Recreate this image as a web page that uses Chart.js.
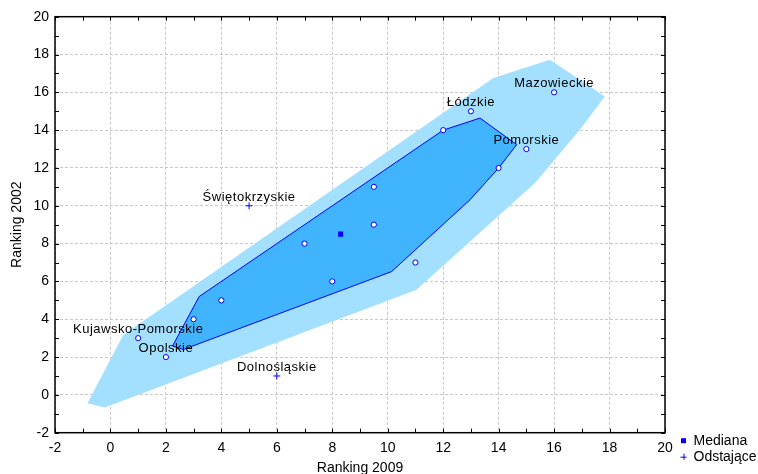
<!DOCTYPE html>
<html>
<head>
<meta charset="utf-8">
<script src="https://cdn.jsdelivr.net/npm/chart.js@4/dist/chart.umd.min.js"></script>
<style>
  html, body { margin: 0; padding: 0; background: #fff; }
  #wrap { width: 758px; height: 474px; position: relative; }
</style>
</head>
<body>
<div id="wrap"><canvas id="c" width="758" height="474"></canvas></div>
<script>
// ---- data ----
const axisMin = -2;
const axisMax = 20;
const axisStep = 2;

// regular points (Ranking 2009, Ranking 2002)
const pointX = [16, 13, 15, 12, 14, 9.5, 9.5, 7, 8, 11, 4, 3, 1, 2];
const pointY = [16, 15, 13, 14, 12, 11, 9, 8, 6, 7, 5, 4, 3, 2];
const pointLabel = ["Mazowieckie", "Łódzkie", "Pomorskie", "", "", "", "", "", "", "", "", "", "Kujawsko-Pomorskie", "Opolskie"];

// outliers
const outlierX = [5, 6];
const outlierY = [10, 1];
const outlierLabel = ["Świętokrzyskie", "Dolnośląskie"];

// median
const medianX = [8.3];
const medianY = [8.5];

// bag (inner hull) polygon vertices
const bagX = [2.24, 2.63, 10.14, 12.97, 14, 14.65, 13.33, 12, 3.2, 2.24];
const bagY = [2.59, 2.4, 6.52, 10.32, 12, 13.23, 14.64, 14, 5.2, 2.59];

// fence (outer loop) polygon vertices
const fenceX = [-0.83, -0.2, 11.04, 15.31, 16.93, 17.83, 15.85, 13.81, 0.46, -0.83];
const fenceY = [-0.44, -0.67, 5.56, 11.2, 14.02, 15.78, 17.72, 16.76, 3.17, -0.44];

const legendLabels = ["Mediana", "Odstające"];
const xTitle = "Ranking 2009";
const yTitle = "Ranking 2002";

// ---- helpers ----
const zip = (xs, ys) => xs.map((x, i) => ({x: x, y: ys[i]}));
const FONT = "'Liberation Sans', Arial, sans-serif";
const BLUE = '#0000ff';

Chart.defaults.font.family = FONT;
Chart.defaults.font.size = 14;
Chart.defaults.color = '#000';

const decorPlugin = {
  id: 'decor',
  afterDraw(chart) {
    const ctx = chart.ctx;
    const a = chart.chartArea;
    const xs = chart.scales.x, ys = chart.scales.y;
    ctx.save();
    // inside tick marks at every unit on all four sides
    ctx.strokeStyle = '#000';
    ctx.lineWidth = 1;
    const tl = 4;
    ctx.beginPath();
    for (let v = axisMin; v <= axisMax; v++) {
      const px = Math.round(xs.getPixelForValue(v)) + 0.5;
      ctx.moveTo(px, a.bottom); ctx.lineTo(px, a.bottom - tl);
      ctx.moveTo(px, a.top); ctx.lineTo(px, a.top + tl);
      const py = Math.round(ys.getPixelForValue(v)) + 0.5;
      ctx.moveTo(a.left, py); ctx.lineTo(a.left + tl, py);
      ctx.moveTo(a.right, py); ctx.lineTo(a.right - tl, py);
    }
    ctx.stroke();
    // frame
    ctx.lineWidth = 1.5;
    ctx.strokeRect(a.left, a.top, a.right - a.left, a.bottom - a.top);

    // point labels
    ctx.fillStyle = '#000';
    ctx.font = '13px ' + FONT;
    ctx.textAlign = 'center';
    ctx.textBaseline = 'middle';
    if ('letterSpacing' in ctx) ctx.letterSpacing = '0.5px';
    const lab = (x, y, t) => {
      if (!t) return;
      ctx.fillText(t, xs.getPixelForValue(x), ys.getPixelForValue(y) - 8.5);
    };
    pointX.forEach((x, i) => lab(x, pointY[i], pointLabel[i]));
    outlierX.forEach((x, i) => lab(x, outlierY[i], outlierLabel[i]));
    if ('letterSpacing' in ctx) ctx.letterSpacing = '0px';

    // legend (outside plot, lower right)
    const lx = a.right + 18.5;
    const ly1 = a.bottom + 8;
    const ly2 = a.bottom + 24;
    ctx.fillStyle = BLUE;
    ctx.fillRect(lx - 2.5, ly1 - 2.5, 5, 5);
    ctx.strokeStyle = BLUE;
    ctx.lineWidth = 1;
    ctx.beginPath();
    ctx.moveTo(lx - 3, ly2 + 0.5); ctx.lineTo(lx + 3, ly2 + 0.5);
    ctx.moveTo(lx + 0.5, ly2 - 3); ctx.lineTo(lx + 0.5, ly2 + 3);
    ctx.stroke();
    ctx.fillStyle = '#000';
    ctx.font = '14px ' + FONT;
    ctx.textAlign = 'left';
    ctx.textBaseline = 'middle';
    ctx.fillText(legendLabels[0], lx + 10, ly1);
    ctx.fillText(legendLabels[1], lx + 10, ly2);
    ctx.restore();
  }
};

const gridCfg = { color: '#c8c8c8', lineWidth: 1, drawTicks: false };
const borderCfg = { display: false, dash: [3, 2] };

new Chart(document.getElementById('c'), {
  type: 'scatter',
  data: {
    datasets: [
      {
        type: 'line', label: 'fence', order: 4,
        data: zip(fenceX, fenceY),
        backgroundColor: '#a3dffe', borderWidth: 0, borderColor: 'rgba(0,0,0,0)',
        fill: 'shape', pointRadius: 0, tension: 0
      },
      {
        type: 'line', label: 'bag', order: 3,
        data: zip(bagX, bagY),
        backgroundColor: '#40b4fe', borderColor: BLUE, borderWidth: 1,
        fill: 'shape', pointRadius: 0, tension: 0
      },
      {
        label: 'points', order: 2,
        data: zip(pointX, pointY),
        pointStyle: 'circle', pointRadius: 2.6, backgroundColor: '#fff',
        borderColor: BLUE, borderWidth: 1
      },
      {
        label: legendLabels[0], order: 1,
        data: zip(medianX, medianY),
        pointStyle: 'rect', pointRadius: 3.6, backgroundColor: BLUE,
        borderColor: BLUE, borderWidth: 0
      },
      {
        label: legendLabels[1], order: 1,
        data: zip(outlierX, outlierY),
        pointStyle: 'cross', pointRadius: 3.5,
        borderColor: BLUE, borderWidth: 1
      }
    ]
  },
  options: {
    responsive: false,
    animation: false,
    events: [],
    layout: { padding: { top: 16.7, right: 93, left: 0, bottom: 0 } },
    plugins: { legend: { display: false }, tooltip: { enabled: false } },
    scales: {
      x: {
        type: 'linear', min: axisMin, max: axisMax,
        ticks: { stepSize: axisStep, padding: 7, font: { size: 14 }, color: '#000' },
        grid: gridCfg, border: borderCfg,
        title: { display: true, text: xTitle, font: { size: 14, lineHeight: 0.86 }, padding: { top: 0, bottom: 0 }, color: '#000' },
        afterFit: s => { s.height = 41.3; }
      },
      y: {
        type: 'linear', min: axisMin, max: axisMax,
        ticks: { stepSize: axisStep, padding: 6, font: { size: 14 }, color: '#000' },
        grid: gridCfg, border: borderCfg,
        title: { display: true, text: yTitle, font: { size: 14, lineHeight: 1 }, padding: { top: 10, bottom: 0 }, color: '#000' },
        afterFit: s => { s.width = 55; }
      }
    }
  },
  plugins: [decorPlugin]
});
</script>
</body>
</html>
